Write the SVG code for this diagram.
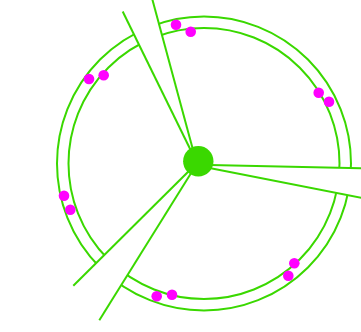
<svg xmlns="http://www.w3.org/2000/svg" width="361" height="332" viewBox="0 0 361 332">
<style>
.ring{fill:none;stroke:#3ad800;stroke-width:2}
.mask{fill:#ffffff;stroke:none}
.spoke{stroke:#3ad800;stroke-width:2;fill:none;stroke-linecap:butt}
.dot{fill:#ff00ff}
.hub{fill:#3ad800}
</style>
<rect width="361" height="332" fill="#ffffff"/>
<g id="rings">
<circle class="ring" cx="204" cy="163.5" r="147"/>
<circle class="ring" cx="204" cy="163.5" r="135.5"/>
</g>
<g id="wedges">
<polygon class="mask" points="196,161 122.7,11.5 150,-8"/>
<polygon class="mask" points="198,164.7 365,168.4 365,198.5"/>
<polygon class="mask" points="198,162 73.3,285.7 99.3,320.3"/>
</g>
<g id="connectors">
<line class="spoke" x1="196" y1="161" x2="122.7" y2="11.5"/>
<line class="spoke" x1="196" y1="161" x2="149.8" y2="-10"/>
<line class="spoke" x1="198" y1="164.7" x2="365" y2="168.4"/>
<line class="spoke" x1="198" y1="165.8" x2="365" y2="198.5"/>
<line class="spoke" x1="198" y1="162" x2="73.3" y2="285.7"/>
<line class="spoke" x1="198" y1="162" x2="99.3" y2="320.3"/>
</g>
<g id="dots">
<circle class="dot" cx="176" cy="24.7" r="5.3"/>
<circle class="dot" cx="190.7" cy="31.7" r="5.3"/>
<circle class="dot" cx="89" cy="79" r="5.3"/>
<circle class="dot" cx="103.7" cy="75.3" r="5.3"/>
<circle class="dot" cx="318.7" cy="92.7" r="5.3"/>
<circle class="dot" cx="329" cy="101.7" r="5.3"/>
<circle class="dot" cx="64" cy="195.7" r="5.3"/>
<circle class="dot" cx="70.3" cy="209.7" r="5.3"/>
<circle class="dot" cx="294.3" cy="263.3" r="5.3"/>
<circle class="dot" cx="288.3" cy="275.7" r="5.3"/>
<circle class="dot" cx="156.7" cy="296.3" r="5.3"/>
<circle class="dot" cx="172" cy="294.7" r="5.3"/>
</g>
<g id="hub">
<circle class="hub" cx="198.3" cy="161.3" r="15.2"/>
</g>
</svg>
